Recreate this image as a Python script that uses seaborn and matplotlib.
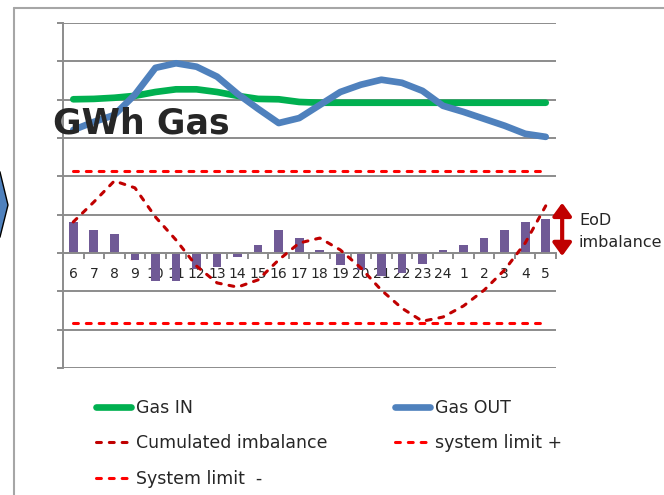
import numpy as np
import pandas as pd
import matplotlib
matplotlib.use("Agg")
import matplotlib.pyplot as plt
import seaborn as sns
from matplotlib.lines import Line2D
from matplotlib.patches import Polygon

# hours of the gas day, 6:00 to 5:00
hours = ["6", "7", "8", "9", "10", "11", "12", "13", "14", "15", "16", "17",
         "18", "19", "20", "21", "22", "23", "24", "1", "2", "3", "4", "5"]
gas_in = [4.01, 4.02, 4.05, 4.10, 4.20, 4.27, 4.27, 4.20, 4.10, 4.02, 4.01, 3.94,
          3.92, 3.92, 3.92, 3.92, 3.92, 3.92, 3.92, 3.92, 3.92, 3.92, 3.92, 3.92]
gas_out = [3.21, 3.42, 3.60, 4.13, 4.83, 4.95, 4.86, 4.60, 4.15, 3.76, 3.39, 3.52,
           3.86, 4.20, 4.39, 4.52, 4.44, 4.23, 3.84, 3.68, 3.50, 3.32, 3.11, 3.03]
hourly_imbalance = [0.81, 0.60, 0.50, -0.18, -0.73, -0.73, -0.42, -0.36, -0.10, 0.20, 0.60, 0.38,
                    0.08, -0.30, -0.45, -0.60, -0.53, -0.29, 0.08, 0.20, 0.39, 0.60, 0.81, 0.89]
cumulated = [0.81, 1.33, 1.88, 1.70, 0.94, 0.34, -0.34, -0.78, -0.89, -0.70, -0.18, 0.26,
             0.39, 0.08, -0.39, -0.97, -1.44, -1.78, -1.67, -1.38, -0.97, -0.44, 0.26, 1.23]
system_limit_plus = 2.15
system_limit_minus = -1.83
eod_arrow = (-0.08, 1.31)

GREEN = "#00B050"
BLUE = "#4F81BD"
PURPLE = "#705A96"
DARK_RED = "#C00000"
RED = "#FF0000"
GRID = "#8C8C8C"

df = pd.DataFrame({
    "pos": np.arange(len(hours)),
    "hour": hours,
    "gas_in": gas_in,
    "gas_out": gas_out,
    "imbalance": hourly_imbalance,
    "cumulated": cumulated,
})

sns.set_style("white")
plt.rcParams["font.family"] = ["DejaVu Sans"]

fig = plt.figure(figsize=(6.64, 4.95), dpi=100)
ax = fig.add_axes([63 / 664, 1 - 368 / 495, 493 / 664, 345 / 495])

sns.barplot(data=df, x="pos", y="imbalance", color=PURPLE, saturation=1,
            width=0.42, linewidth=0, ax=ax, zorder=2)
sns.lineplot(data=df, x="pos", y="gas_in", color=GREEN, lw=4.8,
             solid_capstyle="round", ax=ax, zorder=3)
sns.lineplot(data=df, x="pos", y="gas_out", color=BLUE, lw=4.8,
             solid_capstyle="round", ax=ax, zorder=3)
sns.lineplot(data=df, x="pos", y="cumulated", color=DARK_RED, lw=2.2,
             linestyle=(0, (1.6, 2.6)), dash_capstyle="round", ax=ax, zorder=4)
ax.hlines([system_limit_plus, system_limit_minus], df["pos"].iloc[0], df["pos"].iloc[-1],
          colors=RED, lw=2.2, linestyles=[(0, (1.6, 2.6))], capstyle="round", zorder=4)

ax.set_xlim(-0.5, len(hours) - 0.5)
ax.set_ylim(-3, 6)
ax.set_yticks(range(-3, 7))
ax.set_xticks(df["pos"])
ax.set_xticklabels(hours, fontsize=7.5, color="black")
ax.set_xticks(np.arange(len(hours) + 1) - 0.5, minor=True)
ax.set_xlabel("")
ax.set_ylabel("")

ax.yaxis.grid(True, color=GRID, lw=1.4)
ax.xaxis.grid(False)
ax.set_axisbelow(True)
for side in ["top", "right"]:
    ax.spines[side].set_visible(False)
ax.spines["left"].set_color(GRID)
ax.spines["left"].set_linewidth(1.4)
ax.spines["bottom"].set_position(("data", 0))
ax.spines["bottom"].set_color(GRID)
ax.spines["bottom"].set_linewidth(1.4)
ax.tick_params(axis="y", left=True, length=4, width=1.4, color=GRID, labelleft=False)
ax.tick_params(axis="x", which="major", length=0, pad=10)
ax.tick_params(axis="x", which="minor", bottom=True, length=4, width=1.4, color=GRID)

# end-of-day imbalance arrow
ax.annotate("", xy=(23.8, eod_arrow[1]), xytext=(23.8, eod_arrow[0]),
            arrowprops=dict(arrowstyle="<|-|>,head_length=0.55,head_width=0.4",
                            color=DARK_RED, lw=3, shrinkA=0, shrinkB=0,
                            mutation_scale=14),
            annotation_clip=False)
fig.text(579 / 664, 1 - 225 / 495, "EoD", fontsize=11.5, va="baseline")
fig.text(579 / 664, 1 - 247 / 495, "imbalance", fontsize=11.5, va="baseline")

fig.text(53 / 664, 1 - 133 / 495, "GWh Gas", fontsize=25, fontweight="bold",
         va="baseline", zorder=10)

# slide frame and left chevron
fig.add_artist(Line2D([14 / 664, 14 / 664], [0, 1 - 8 / 495], transform=fig.transFigure,
                      color="#A6A6A6", lw=1.5))
fig.add_artist(Line2D([14 / 664, 1], [1 - 8 / 495, 1 - 8 / 495], transform=fig.transFigure,
                      color="#A6A6A6", lw=1.5))
chevron = [(-6, 172), (0, 172), (8, 205), (0, 237), (-6, 237)]
fig.add_artist(Polygon([(x / 664, 1 - y / 495) for x, y in chevron], closed=True,
                       transform=fig.transFigure, facecolor=BLUE, edgecolor="black", lw=1))

handles = [
    Line2D([], [], color=GREEN, lw=4.8, solid_capstyle="round"),
    Line2D([], [], color=DARK_RED, lw=2.2, linestyle=(0, (1.6, 2.6)), dash_capstyle="round"),
    Line2D([], [], color=RED, lw=2.2, linestyle=(0, (1.6, 2.6)), dash_capstyle="round"),
    Line2D([], [], color=BLUE, lw=4.8, solid_capstyle="round"),
    Line2D([], [], color=RED, lw=2.2, linestyle=(0, (1.6, 2.6)), dash_capstyle="round"),
]
labels = ["Gas IN", "Cumulated imbalance", "System limit  -", "Gas OUT", "system limit +"]
fig.legend(handles, labels, loc="upper left", bbox_to_anchor=(96 / 664, 1 - 399 / 495),
           ncol=2, frameon=False, fontsize=12.5, handlelength=2.0, handletextpad=0.3,
           columnspacing=3.9, labelspacing=1.0, borderpad=0, borderaxespad=0)

fig.savefig("out.png", dpi=100)
